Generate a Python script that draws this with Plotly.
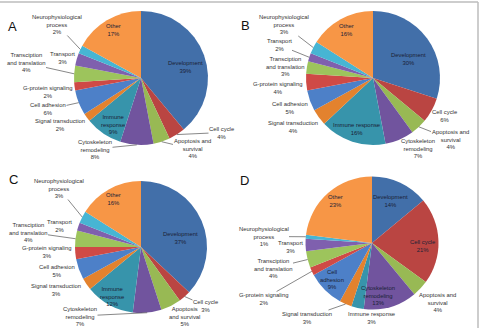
import math
import plotly.graph_objects as go

# ---------------- data ----------------
categories = ["Development", "Cell cycle", "Apoptosis and survival", "Cytoskeleton remodeling",
              "Immune response", "Signal transduction", "Cell adhesion", "G-protein signaling",
              "Transciption and translation", "Transport", "Neurophysiological process", "Other"]
values_A = [39, 4, 4, 8, 9, 2, 6, 2, 4, 3, 2, 17]
values_B = [30, 6, 4, 7, 16, 4, 5, 4, 3, 2, 3, 16]
values_C = [37, 3, 5, 7, 12, 3, 5, 3, 4, 2, 3, 16]
values_D = [14, 21, 4, 13, 3, 3, 9, 2, 4, 3, 1, 23]
panel_letters = ["A", "B", "C", "D"]

# ---------------- style ----------------
W, H = 480, 328
colors = ["#426FA9", "#BA4542", "#98B954", "#71549E", "#3794AB", "#E3822E",
          "#4D80C8", "#CF4A46", "#9DC45C", "#7F60AE", "#47B5D3", "#F79646"]
FONT = "Liberation Sans, Arial, sans-serif"
FS = 5.9

# panel geometry: centre (px), radius (px), letter position (px)
panels = [
    dict(values=values_A, cx=141, cy=78, r=67, letter=(12, 27)),
    dict(values=values_B, cx=373, cy=78, r=67, letter=(246, 26)),
    dict(values=values_C, cx=141, cy=247, r=66, letter=(13, 179)),
    dict(values=values_D, cx=372, cy=243, r=66.5, letter=(245, 180)),
]

# label placement per panel: index -> (wrapped name, x px, y px, mode)
# mode: "in" inside slice, "out" plain outside, "line" outside with leader line
label_specs = [
    {0: ("Development", 185, 66.5, "in"), 1: ("Cell cycle", 222, 132.5, "line"),
     2: ("Apoptosis and<br>survival", 192, 149, "line"), 3: ("Cytoskeleton<br>remodeling", 95, 149, "line"),
     4: ("Immune<br>response", 113, 124, "in"), 5: ("Signal transduction", 60, 125.5, "out"),
     6: ("Cell adhesion", 48, 109.5, "line"), 7: ("G-protein signaling", 47, 92.5, "out"),
     8: ("Transciption<br>and translation", 26, 63, "line"), 9: ("Transport", 62, 57.5, "out"),
     10: ("Neurophysiological<br>process", 57, 24.5, "line"), 11: ("Other", 113, 29.5, "in")},
    {0: ("Development", 408, 58.5, "in"), 1: ("Cell cycle", 445, 116, "out"),
     2: ("Apoptosis and<br>survival", 450, 139, "line"), 3: ("Cytoskeleton<br>remodeling", 418, 148, "out"),
     4: ("Immune response", 357, 128.5, "in"), 5: ("Signal transduction", 293, 127.5, "out"),
     6: ("Cell adhesion", 290, 107.5, "out"), 7: ("G-protein signaling", 277, 88.5, "out"),
     8: ("Transciption<br>and translation", 285, 67, "out"), 9: ("Transport", 279, 45, "line"),
     10: ("Neurophysiological<br>process", 284, 25, "line"), 11: ("Other", 346, 29.5, "in")},
    {0: ("Development", 180, 238, "in"), 1: ("Cell cycle", 206, 306, "line"),
     2: ("Apoptosis<br>and survival", 184, 316, "out"), 3: ("Cytoskeleton<br>remodeling", 80, 316, "line"),
     4: ("Immune<br>response", 112, 296, "in"), 5: ("Signal transduction", 56, 289.5, "out"),
     6: ("Cell adhesion", 57, 270.5, "out"), 7: ("G-protein signaling", 46, 251.5, "out"),
     8: ("Transciption<br>and translation", 28, 232, "line"), 9: ("Transport", 59, 225.5, "out"),
     10: ("Neurophysiological<br>process", 59, 188.5, "line"), 11: ("Other", 113, 199, "in")},
    {0: ("Development", 390, 200.5, "in"), 1: ("Cell cycle", 423, 246, "in"),
     2: ("Apoptosis and<br>survival", 437, 302, "out"), 3: ("Cytoskeleton<br>remodeling", 378, 295, "in"),
     4: ("Immune response", 372, 317.5, "out"), 5: ("Signal transduction", 307, 317.5, "line"),
     6: ("Cell<br>adhesion", 332, 279, "in"), 7: ("G-protein signaling", 263.5, 299, "line"),
     8: ("Transciption<br>and translation", 273, 268, "line"), 9: ("Transport", 290, 247.5, "out"),
     10: ("Neurophysiological<br>process", 263.5, 236.5, "line"), 11: ("Other", 335, 200.5, "in")},
]

fig = go.Figure()
annotations = []

for p, spec, letter in zip(panels, label_specs, panel_letters):
    cx, cy, r = p["cx"], p["cy"], p["r"]
    vals = p["values"]
    fig.add_trace(go.Pie(
        labels=categories, values=vals, sort=False, direction="clockwise", rotation=0,
        marker=dict(colors=colors, line=dict(width=0)), textinfo="none",
        hoverinfo="label+percent", showlegend=False,
        domain=dict(x=[(cx - r) / W, (cx + r) / W], y=[1 - (cy + r) / H, 1 - (cy - r) / H]),
    ))
    total = sum(vals)
    cum = 0
    for i, v in enumerate(vals):
        mid = (cum + v / 2) / total * 2 * math.pi
        cum += v
        name, lx, ly, mode = spec[i]
        text = f"{name}<br>{v}%"
        color = "#1b2236" if mode == "in" else "#333333"
        if mode == "line":
            ex = cx + r * math.sin(mid)
            ey = cy - r * math.cos(mid)
            annotations.append(dict(
                x=ex / W, y=1 - ey / H, xref="paper", yref="paper",
                ax=lx - ex, ay=ly - ey, axref="pixel", ayref="pixel",
                text=text, showarrow=True, arrowhead=0, arrowwidth=0.7,
                arrowcolor="#555555", standoff=0, startstandoff=0,
                font=dict(family=FONT, size=FS, color=color), align="center", borderpad=0))
        else:
            annotations.append(dict(
                x=lx / W, y=1 - ly / H, xref="paper", yref="paper",
                xanchor="center", yanchor="middle", text=text, showarrow=False,
                font=dict(family=FONT, size=FS, color=color), align="center", borderpad=0))
    annotations.append(dict(
        x=p["letter"][0] / W, y=1 - p["letter"][1] / H, xref="paper", yref="paper",
        xanchor="center", yanchor="middle", text=letter, showarrow=False,
        font=dict(family=FONT, size=13, color="#111111")))

shapes = [
    dict(type="line", xref="paper", yref="paper", x0=0, x1=478 / W, y0=1 - 2 / H, y1=1 - 2 / H,
         line=dict(color="#BDBDBD", width=1.5)),
    dict(type="line", xref="paper", yref="paper", x0=478 / W, x1=478 / W, y0=0, y1=1 - 2 / H,
         line=dict(color="#BDBDBD", width=1.5)),
]

fig.update_layout(
    width=W, height=H, margin=dict(l=0, r=0, t=0, b=0),
    paper_bgcolor="white", plot_bgcolor="white",
    annotations=annotations, shapes=shapes,
)

fig.write_html("out.html")
